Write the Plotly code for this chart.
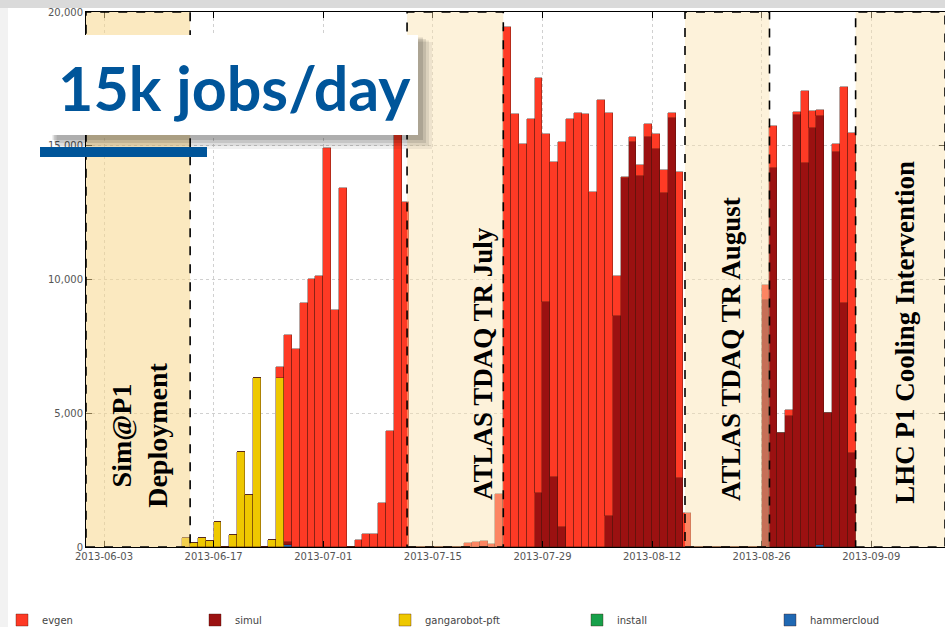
import pandas as pd
import plotly.graph_objects as go

# ---------------- data (jobs per day) ----------------
first_day = "2013-06-13"
n_days = 86  # 2013-06-13 .. 2013-09-06

evgen = [0, 0, 0, 0, 0, 0, 0, 0, 0, 0, 0, 0, 411, 7760, 7400, 9134, 10019, 10131, 14930, 8853,
         13409, 0, 262, 486, 486, 1632, 4349, 16000, 12909, 0, 0, 0, 0, 0, 0, 0, 137, 200, 237, 112,
         1970, 19452, 16174, 15053, 16000, 15492, 6256, 11801, 14368, 16000, 16212, 16174, 13283, 16710, 15041, 1495, 62, 186, 399, 462,
         548, 872, 162, 11439, 1283, 0, 0, 0, 0, 0, 0, 0, 0, 0, 560, 1596, 0, 224, 124, 2704,
         635, 212, 0, 286, 8051, 11940]
simul = [0, 0, 0, 0, 0, 0, 0, 0, 0, 0, 0, 0, 0, 100, 0, 0, 0, 0, 0, 0,
         0, 0, 0, 0, 0, 0, 0, 0, 0, 0, 0, 0, 0, 0, 0, 0, 0, 0, 0, 0,
         0, 0, 0, 0, 0, 2030, 9171, 2604, 760, 0, 0, 0, 0, 0, 1171, 8636, 13782, 15153, 13881, 15339,
         14879, 13221, 16050, 2567, 0, 0, 0, 0, 0, 0, 0, 0, 0, 0, 9234, 14155, 4250, 4897, 16150, 14343,
         15676, 16062, 4997, 14779, 9134, 3525]
gangarobot = [350, 137, 350, 225, 947, 0, 449, 3539, 1931, 6305, 0, 262, 6330] + [0] * 73
install = [0] * 86
hammercloud = [0] * 13 + [80] + [0] * 67 + [60] + [0] * 4

series_names = ["evgen", "simul", "gangarobot-pft", "install", "hammercloud"]
series_colors = ["#fe3a25", "#9b1111", "#eec800", "#17a04a", "#1f68b3"]

# shaded periods
period_labels = ["<b>Sim@P1<br>Deployment</b>", "<b>ATLAS TDAQ TR July</b>",
                 "<b>ATLAS TDAQ TR August</b>", "<b>LHC P1 Cooling Intervention</b>"]
period_start = ["2013-05-31 16:48", "2013-07-11 17:00", "2013-08-16 05:00", "2013-09-07 00:00"]
period_end = ["2013-06-14 00:00", "2013-07-24 00:00", "2013-08-27 00:00", "2013-09-18 10:00"]
period_label_x = ["2013-06-07 14:00", "2013-07-21 10:00", "2013-08-22 02:00", "2013-09-13 07:00"]
period_label_y = [4190, 6840, 7400, 8040]
period_label_size = [28, 27, 27, 27]

x_range = ["2013-05-31 16:48", "2013-09-18 10:00"]
y_ticks = [0, 5000, 10000, 15000, 20000]

# ---------------- figure ----------------
days = pd.date_range(first_day, periods=n_days, freq="D")
centers = days + pd.Timedelta(hours=12)
day_ms = 86400000

values = {"evgen": evgen, "simul": simul, "gangarobot-pft": gangarobot,
          "install": install, "hammercloud": hammercloud}
color_of = dict(zip(series_names, series_colors))
legend_id = {n: ("legend" if i == 0 else f"legend{i + 1}") for i, n in enumerate(series_names)}
legend_px = [22, 215, 405, 597, 790]

fig = go.Figure()
# bottom -> top stacking order
for name in ["hammercloud", "install", "gangarobot-pft", "simul", "evgen"]:
    fig.add_trace(go.Bar(
        x=centers, y=values[name], name=name, width=day_ms, legend=legend_id[name],
        marker=dict(color=color_of[name], line=dict(color="rgba(70,20,10,0.55)", width=0.7)),
    ))

shapes = []
for i, (s, e) in enumerate(zip(period_start, period_end)):
    fill = "rgba(247,215,140,0.55)" if i == 0 else "rgba(250,226,172,0.45)"
    shapes.append(dict(type="rect", xref="x", yref="y", x0=s, x1=e, y0=0, y1=20000,
                       fillcolor=fill, layer="above",
                       line=dict(color="black", width=1.6, dash="dash")))

# page decoration (paper coordinates)
L, W, T, H = 86, 859, 12, 535
def px(x):
    return (x - L) / W
def py(y):
    return (T + H - y) / H

shapes.append(dict(type="rect", xref="paper", yref="paper", x0=px(0), x1=px(945), y0=py(8), y1=py(0),
                   fillcolor="#dadada", line=dict(width=0), layer="above"))
shapes.append(dict(type="rect", xref="paper", yref="paper", x0=px(0), x1=px(8), y0=py(627), y1=py(8),
                   fillcolor="rgba(0,0,0,0.05)", line=dict(width=0), layer="above"))
# shadow of the callout box
for k, a in enumerate([0.06, 0.08, 0.10, 0.12]):
    d = 14 - 3 * k
    shapes.append(dict(type="rect", xref="paper", yref="paper",
                       x0=px(50 + d / 2), x1=px(418 + d), y0=py(135 + d), y1=py(35 + d / 2),
                       fillcolor=f"rgba(0,0,0,{a})", line=dict(width=0), layer="above"))
shapes.append(dict(type="rect", xref="paper", yref="paper", x0=px(50), x1=px(418), y0=py(135), y1=py(35),
                   fillcolor="white", line=dict(width=0), layer="above"))
shapes.append(dict(type="rect", xref="paper", yref="paper", x0=px(40), x1=px(207), y0=py(157), y1=py(147),
                   fillcolor="#00559a", line=dict(width=0), layer="above"))

annotations = []
for lab, ax_, ay_, sz in zip(period_labels, period_label_x, period_label_y, period_label_size):
    annotations.append(dict(x=ax_, y=ay_, xref="x", yref="y", text=lab, textangle=-90,
                            showarrow=False, xanchor="center", yanchor="middle",
                            font=dict(family="Liberation Serif", size=sz, color="black")))
annotations.append(dict(x=px(234), y=py(87), xref="paper", yref="paper", text="<b>15k jobs/day</b>",
                        showarrow=False, xanchor="center", yanchor="middle",
                        font=dict(family="Lato", size=61, color="#00559a")))

legends = {}
for i, n in enumerate(series_names):
    legends[legend_id[n]] = dict(
        orientation="h", xref="container", yref="container",
        x=(legend_px[i] - 20) / 945, y=(627 - 620) / 627, xanchor="left", yanchor="middle",
        font=dict(family="DejaVu Sans", size=10, color="#444"), itemwidth=30,
        bgcolor="rgba(0,0,0,0)")

fig.update_layout(
    width=945, height=627,
    margin=dict(l=L, r=0, t=T, b=627 - T - H, autoexpand=False),
    paper_bgcolor="white", plot_bgcolor="white",
    barmode="stack", bargap=0,
    shapes=shapes, annotations=annotations,
    showlegend=True,
    font=dict(family="DejaVu Sans", size=10, color="#555"),
    **legends,
)
fig.update_xaxes(type="date", range=x_range, tick0="2013-06-03", dtick=14 * day_ms,
                 tickformat="%Y-%m-%d", ticks="inside", ticklen=6, tickcolor="black",
                 showline=True, linecolor="black", linewidth=1, mirror="ticks",
                 showgrid=True, gridcolor="#d0d0d0", griddash="dot", gridwidth=1,
                 automargin=False, tickfont=dict(size=10, color="#555"))
fig.update_yaxes(range=[0, 20000], tickvals=y_ticks, tickformat=",d",
                 ticks="inside", ticklen=6, tickcolor="black",
                 showline=True, linecolor="black", linewidth=1, mirror="ticks",
                 showgrid=True, gridcolor="#d0d0d0", griddash="dot", gridwidth=1,
                 automargin=False, zeroline=False, tickfont=dict(size=10, color="#555"))

fig.write_html("out.html", config={"displayModeBar": False},
               post_script="document.body.style.margin='0px';")
